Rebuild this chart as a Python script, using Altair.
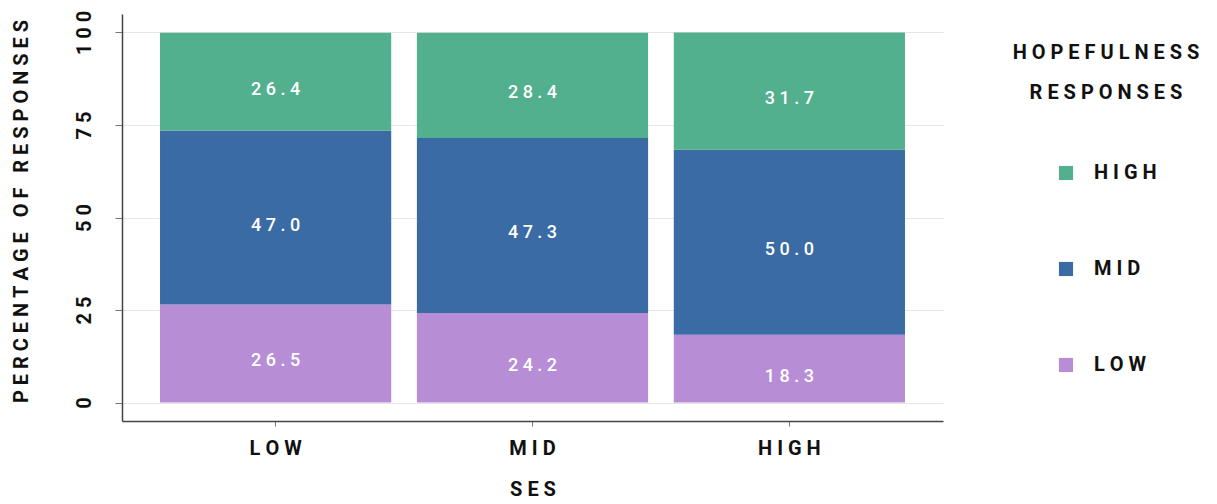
import altair as alt
import pandas as pd

# Share of hopefulness responses (%) within each SES group
ses_levels = ["LOW", "MID", "HIGH"]
hope_levels = ["LOW", "MID", "HIGH"]
pct_low = [26.5, 24.2, 18.3]
pct_mid = [47.0, 47.3, 50.0]
pct_high = [26.4, 28.4, 31.7]
y_ticks = [0, 25, 50, 75, 100]

series = {"LOW": pct_low, "MID": pct_mid, "HIGH": pct_high}
rows = []
for i, ses in enumerate(ses_levels):
    for k, hope in enumerate(hope_levels):
        rows.append({"ses": ses, "hope": hope, "pct": series[hope][i], "rank": k})
df = pd.DataFrame(rows)

FONT = "Roboto, Liberation Sans, sans-serif"
NB = "\u00a0"  # non-collapsing space used for letter spacing


def spaced(text):
    """Spread the letters of a label apart (words get a wider gap)."""
    return (NB * 3).join(NB.join(word) for word in text.split(" "))


SPACED = "join(split(datum.label, ''), '\u00a0')"

legend_order = ["HIGH", "MID", "LOW"]
legend_colors = ["#52B08F", "#3A6BA5", "#B78ED6"]

x_enc = alt.X(
    "ses:N",
    sort=ses_levels,
    scale=alt.Scale(paddingInner=0.1, paddingOuter=0.148),
    axis=alt.Axis(
        title=spaced("SES"),
        labelAngle=0,
        labelExpr=SPACED,
        labelFont=FONT,
        labelFontSize=20,
        labelFontWeight="bold",
        labelColor="#111",
        labelPadding=12,
        labelBaseline="top",
        tickSize=5,
        tickColor="#777",
        domainColor="#444",
        domainWidth=1.5,
        titleFont=FONT,
        titleFontSize=20,
        titleFontWeight="bold",
        titleColor="#111",
        titlePadding=21,
    ),
)

bars = alt.Chart(df).mark_bar().encode(
    x=x_enc,
    y=alt.Y(
        "pct:Q",
        stack="zero",
        scale=alt.Scale(domain=[-5, 105], nice=False, zero=False),
        axis=alt.Axis(
            title=spaced("PERCENTAGE OF RESPONSES"),
            values=y_ticks,
            labelAngle=270,
            labelAlign="center",
            labelBaseline="alphabetic",
            labelExpr=SPACED,
            labelFont=FONT,
            labelFontSize=20,
            labelFontWeight="bold",
            labelColor="#111",
            labelPadding=25,
            tickSize=7,
            tickColor="#777",
            domainColor="#444",
            domainWidth=1.5,
            grid=True,
            gridColor="#e6e6e6",
            titleFont=FONT,
            titleFontSize=20,
            titleFontWeight="bold",
            titleColor="#111",
            titleLimit=600,
            titleX=-101,
            titleY=197,
            titleBaseline="middle",
        ),
    ),
    color=alt.Color(
        "hope:N",
        scale=alt.Scale(domain=legend_order, range=legend_colors),
        legend=alt.Legend(
            orient="none",
            legendX=891,
            legendY=29,
            title=[spaced("HOPEFULNESS"), spaced("RESPONSES")],
            titleFont=FONT,
            titleFontSize=20,
            titleFontWeight="bold",
            titleColor="#111",
            titleAnchor="middle",
            titleAlign="center",
            titleLimit=400,
            titleLineHeight=40,
            titlePadding=60,
            symbolType="square",
            symbolSize=200,
            symbolStrokeWidth=0,
            symbolOffset=0,
            labelExpr=SPACED,
            labelFont=FONT,
            labelFontSize=20,
            labelFontWeight="bold",
            labelColor="#111",
            labelOffset=18,
            rowPadding=76,
        ),
    ),
    order=alt.Order("rank:Q"),
)

labels = (
    alt.Chart(df)
    .transform_stack(stack="pct", groupby=["ses"], sort=[alt.SortField("rank")], as_=["y0", "y1"])
    .transform_calculate(
        mid="(datum.y0 + datum.y1) / 2",
        txt="join(split(format(datum.pct, '.1f'), ''), '\u00a0')",
    )
    .mark_text(color="white", font=FONT, fontSize=18, fontWeight=500, dy=8)
    .encode(x=alt.X("ses:N", sort=ses_levels), y=alt.Y("mid:Q"), text="txt:N")
)

chart = (
    alt.layer(bars, labels)
    .properties(
        width=821,
        height=407,
        autosize=alt.AutoSizeParams(type="none"),
        padding={"left": 122, "top": 14, "right": 274, "bottom": 83},
    )
    .configure_view(stroke=None)
)

chart.save("out.html", embed_options={"renderer": "svg", "actions": False})
